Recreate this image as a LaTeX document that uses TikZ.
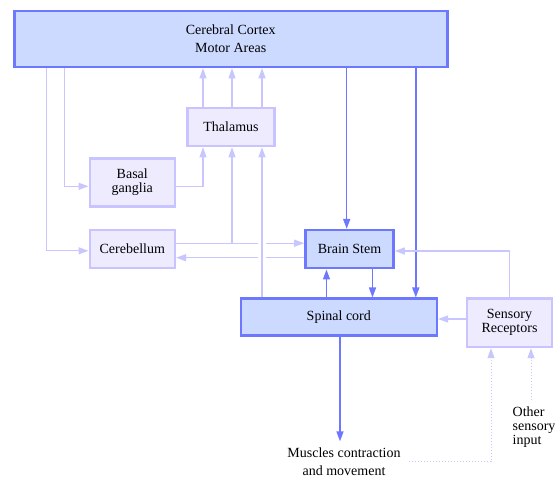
\documentclass[tikz,border=0pt]{standalone}
\usepackage{fontspec}
\setmainfont{Liberation Serif}
\usetikzlibrary{arrows.meta,calc}
\definecolor{darkb}{HTML}{6E78FF}
\definecolor{lightb}{HTML}{C8C6FF}
\definecolor{bluefill}{HTML}{CCDAFF}
\definecolor{lavfill}{HTML}{EEEBFF}
\definecolor{lavdraw}{HTML}{C8C4FF}
\begin{document}
\begin{tikzpicture}[x=1pt,y=-1pt,
  tip/.tip={Triangle[length=10pt,width=7pt]},
  txt/.style={font=\fontsize{14}{14}\selectfont, align=center},
  bluebox/.style={txt, draw=darkb, fill=bluefill, line width=2.6pt, inner sep=0pt},
  lavbox/.style={txt, draw=lavdraw, fill=lavfill, line width=2.6pt, inner sep=0pt},
  lconn/.style={draw=lightb, line width=1.3pt, -tip},
  dconn/.style={draw=darkb, line width=1.5pt, -tip},
  dotconn/.style={draw=lightb, line width=1pt, dotted, -tip},
]
\useasboundingbox (0,0) rectangle (555,478);

% boxes
\node[bluebox, minimum width=433pt, minimum height=56pt,
      font=\fontsize{14}{18}\selectfont] (cortex) at (230.7,39) {Cerebral Cortex\\Motor Areas};
\node[lavbox, minimum width=87.5pt, minimum height=38pt] (thal) at (231,127) {Thalamus};
\node[lavbox, minimum width=85pt, minimum height=48.5pt] (basal) at (132.3,182.5) {Basal\\ganglia};
\node[lavbox, minimum width=85pt, minimum height=38pt] (cereb) at (132.3,249.2) {Cerebellum};
\node[bluebox, minimum width=88pt, minimum height=38pt] (brain) at (349.5,249.2) {Brain Stem};
\node[bluebox, minimum width=196pt, minimum height=37pt] (spinal) at (338.8,317.3) {Spinal cord};
\node[lavbox, minimum width=85pt, minimum height=48.5pt] (sensory) at (509.5,322.7) {Sensory\\Receptors};
\node[txt, font=\fontsize{14}{18}\selectfont, inner sep=0.5pt] (mus) at (344,462) {Muscles contraction\\and movement};
\node[txt, align=left, anchor=north west, inner sep=0pt] (other) at (512.5,407) {Other\\sensory\\input};

% helper coordinates
\coordinate (tt1) at ([xshift=-28pt]thal.north);
\coordinate (tt2) at ([xshift=1pt]thal.north);
\coordinate (tt3) at ([xshift=31pt]thal.north);
\coordinate (tb1) at ([xshift=-28pt]thal.south);
\coordinate (tb2) at ([xshift=1pt]thal.south);
\coordinate (tb3) at ([xshift=31pt]thal.south);
\coordinate (c46) at ([xshift=33.5pt]cortex.south west);
\coordinate (c64) at ([xshift=51.5pt]cortex.south west);
\coordinate (cb) at ([yshift=6pt]cereb.east);
\coordinate (bc) at ([yshift=-8.5pt]brain.west);
\coordinate (cbx) at ([xshift=-2.8pt]brain.north);
\coordinate (csx) at ([xshift=77pt]spinal.north);
\coordinate (sb) at ([xshift=-23pt]brain.south);
\coordinate (bs) at ([xshift=23pt]brain.south);
\coordinate (ss) at ([yshift=3.7pt]sensory.west);
\coordinate (sm) at ([xshift=1.2pt]spinal.south);
\coordinate (mtop) at ([yshift=6pt]mus.north);
\coordinate (mr) at ([xshift=8pt]mus.east);
\coordinate (sdot) at ([xshift=-18.5pt]sensory.south);
\coordinate (ostart) at (531,400.5);

% thalamus to cortex
\draw[lconn] (tt1) -- (tt1 |- cortex.south);
\draw[lconn] (tt2) -- (tt2 |- cortex.south);
\draw[lconn] (tt3) -- (tt3 |- cortex.south);

% cortex to basal ganglia / cerebellum
\draw[lconn] (c46) |- ([yshift=-1.6pt]cereb.west);
\draw[lconn] (c64) |- ([yshift=-3.8pt]basal.west);

% basal to thalamus
\draw[lconn] ([yshift=-3.8pt]basal.east) -| (tb1);

% cerebellum <-> brain stem
\draw[lconn] (cb) -- (cb -| brain.west);
\draw[lconn] (cb -| tb2) -- (tb2);
\draw[lconn] (bc) -- (bc -| cereb.east);

% gap and spinal to thalamus
\fill[white] ($(tb3 |- cb)+(-4.2,-3)$) rectangle ($(tb3 |- bc)+(4.2,3)$);
\draw[lconn] (tb3 |- spinal.north) -- (tb3);

% cortex to brain stem / spinal
\draw[dconn] (cbx |- cortex.south) -- (cbx);
\draw[dconn] (csx |- cortex.south) -- (csx);

% brain stem <-> spinal
\draw[dconn] (sb |- spinal.north) -- (sb);
\draw[dconn] (bs) -- (bs |- spinal.north);

% sensory
\draw[lconn] (ss) -- (ss -| spinal.east);
\draw[lconn] (sensory.north) |- ([yshift=-1.8pt]brain.east);

% spinal to muscles
\draw[dconn] (sm) -- (sm |- mtop);

% dotted inputs
\draw[dotconn] (mr) -| (sdot);
\draw[dotconn] (ostart) -- (ostart |- sensory.south);
\end{tikzpicture}
\end{document}
